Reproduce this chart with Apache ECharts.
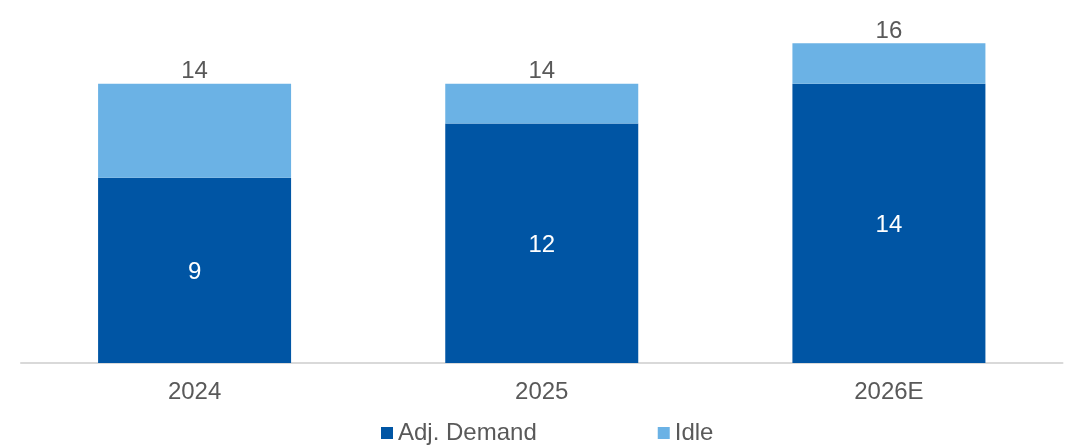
<!DOCTYPE html>
<html>
<head>
<meta charset="utf-8">
<script src="https://cdn.jsdelivr.net/npm/echarts@6/dist/echarts.min.js"></script>
<style>html,body{margin:0;padding:0;background:#fff}#c{width:1071px;height:446px}</style>
</head>
<body>
<div id="c"></div>
<script>
const categories = ['2024', '2025', '2026E'];
const adjDemand = [9.07, 11.72, 13.66];
const idle = [4.59, 1.94, 1.98];
const seriesNames = ['Adj. Demand', 'Idle'];

const totals = adjDemand.map((v, i) => v + idle[i]);
const FONT = '"Liberation Sans", Arial, sans-serif';
const chart = echarts.init(document.getElementById('c'));
chart.setOption({
  animation: false,
  textStyle: { fontFamily: FONT },
  grid: { left: 21, right: 8.5, top: 36, bottom: 83, containLabel: false },
  legend: {
    left: 376, top: 416,
    icon: 'rect', itemWidth: 12, itemHeight: 12, itemGap: 121,
    textStyle: { fontSize: 24, color: '#595959', fontFamily: FONT },
    data: seriesNames
  },
  xAxis: {
    type: 'category', data: categories,
    axisLine: { lineStyle: { color: '#D9D9D9', width: 2 } },
    axisTick: { show: false },
    axisLabel: { fontSize: 24, color: '#595959', margin: 17, fontFamily: FONT }
  },
  yAxis: { type: 'value', min: 0, max: 16, show: false, splitLine: { show: false } },
  series: [
    {
      name: seriesNames[0], type: 'bar', stack: 'a', barWidth: 193,
      data: adjDemand,
      itemStyle: { color: '#0055A4' },
      label: { show: true, position: 'inside', offset: [0, 2], color: '#fff', fontSize: 24, fontFamily: FONT,
        formatter: p => Math.round(p.value) }
    },
    {
      name: seriesNames[1], type: 'bar', stack: 'a', barWidth: 193,
      data: idle,
      itemStyle: { color: '#6BB2E5' },
      label: { show: true, position: 'top', distance: 0, color: '#595959', fontSize: 24, fontFamily: FONT,
        formatter: p => Math.round(totals[p.dataIndex]) }
    }
  ]
});
</script>
</body>
</html>
